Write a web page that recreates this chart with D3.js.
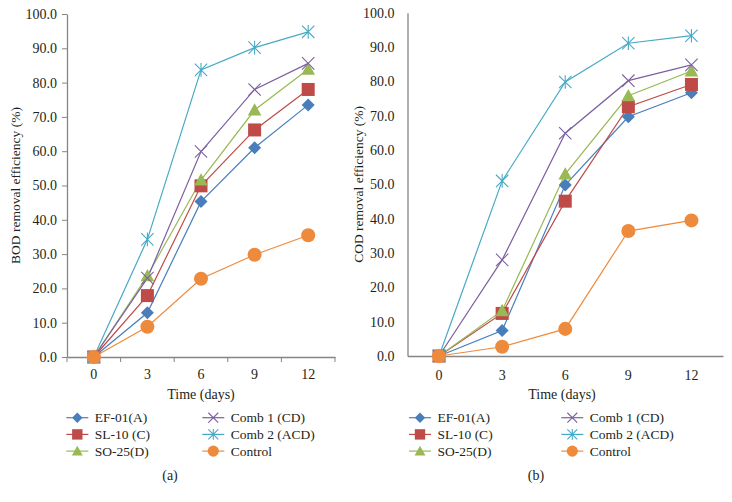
<!DOCTYPE html>
<html>
<head>
<meta charset="utf-8">
<script src="https://cdn.jsdelivr.net/npm/d3@7"></script>
<style>
  body { margin: 0; background: #fff; }
  svg text { font-family: "Liberation Serif", "Times New Roman", serif; fill: #231f20; }
</style>
</head>
<body>
<svg id="chart" width="732" height="502"></svg>
<script>
// days on the x axis
const days = [0, 3, 6, 9, 12];
const seriesNames = ["EF-01(A)", "SL-10 (C)", "SO-25(D)", "Comb 1 (CD)", "Comb 2 (ACD)", "Control"];
const yTicks = [0, 10, 20, 30, 40, 50, 60, 70, 80, 90, 100];

// (a) BOD removal efficiency (%)
const bodEF = [0, 12.9, 45.3, 61.0, 73.5];
const bodSL = [0, 17.9, 49.9, 66.2, 78.0];
const bodSO = [0, 23.7, 51.6, 72.0, 83.9];
const bodC1 = [0, 23.0, 59.9, 78.0, 85.6];
const bodC2 = [0, 34.3, 83.7, 90.2, 94.8];
const bodCtrl = [0, 8.8, 22.8, 29.8, 35.5];

// (b) COD removal efficiency (%)
const codEF = [0, 7.4, 49.8, 69.7, 76.7];
const codSL = [0, 12.4, 45.1, 72.6, 79.1];
const codSO = [0, 13.2, 53.0, 75.8, 83.0];
const codC1 = [0, 28.0, 64.9, 80.2, 84.8];
const codC2 = [0, 51.0, 79.8, 91.1, 93.3];
const codCtrl = [0, 2.7, 7.9, 36.4, 39.5];

const colors = ["#4a7ebb", "#be4b48", "#98b954", "#7d60a0", "#46aac5", "#ee8a3c"];
const shapes = ["diamond", "square", "triangle", "cross", "star", "circle"];
const axisColor = "#858585";

const svg = d3.select("#chart");

function drawMarker(g, shape, color, s) {
    if (shape === "diamond") {
        g.append("path").attr("d", `M0,${-s}L${s},0L0,${s}L${-s},0Z`).attr("fill", color);
    } else if (shape === "square") {
        g.append("rect").attr("x", -s).attr("y", -s).attr("width", 2 * s).attr("height", 2 * s).attr("fill", color);
    } else if (shape === "triangle") {
        g.append("path").attr("d", `M0,${-s * 1.05}L${s * 1.05},${s * 0.85}L${-s * 1.05},${s * 0.85}Z`).attr("fill", color);
    } else if (shape === "circle") {
        g.append("circle").attr("r", s * 1.08).attr("fill", color);
    } else {
        const k = s * 0.95;
        g.append("path")
            .attr("d", `M${-k},${-k}L${k},${k}M${-k},${k}L${k},${-k}` + (shape === "star" ? `M0,${-k * 1.1}L0,${k * 1.1}` : ""))
            .attr("stroke", color).attr("stroke-width", 1.1).attr("fill", "none");
    }
}

function drawPanel(cfg) {
    const x = d3.scaleBand().domain(days).range([cfg.x0, cfg.x1]);
    const y = d3.scaleLinear().domain([0, 100]).range([cfg.y0, cfg.y1]);
    const g = svg.append("g");

    // y axis
    const ya = g.append("g").attr("transform", `translate(${cfg.x0},0)`)
        .call(d3.axisLeft(y).tickValues(yTicks).tickFormat(d3.format(".1f"))
            .tickSize(cfg.ticks ? 5 : 0).tickSizeOuter(0).tickPadding(cfg.ticks ? 5 : 13));
    ya.select(".domain").attr("stroke", axisColor).attr("stroke-width", 1.3);
    ya.selectAll(".tick line").attr("stroke", axisColor);
    ya.selectAll("text").attr("font-size", 14).attr("fill", "#231f20")
        .attr("font-family", "Liberation Serif");

    // x axis (labels at band centres)
    const xa = g.append("g").attr("transform", `translate(0,${cfg.y0})`)
        .call(d3.axisBottom(x).tickSize(0).tickSizeOuter(0).tickPadding(cfg.ticks ? 12 : 14));
    xa.select(".domain").attr("stroke", axisColor).attr("stroke-width", 1.3);
    xa.selectAll("text").attr("font-size", 14).attr("fill", "#231f20")
        .attr("font-family", "Liberation Serif");
    if (cfg.ticks) {
        const bounds = days.map(d => x(d)).concat([cfg.x1]);
        xa.selectAll(".bound").data(bounds).enter().append("line")
            .attr("x1", d => d).attr("x2", d => d).attr("y1", 0).attr("y2", 5)
            .attr("stroke", axisColor);
    }

    const cx = d => x(d) + x.bandwidth() / 2;
    const line = d3.line().x((v, i) => cx(days[i])).y(v => y(v));

    cfg.data.forEach((vals, si) => {
        g.append("path").datum(vals).attr("d", line)
            .attr("fill", "none").attr("stroke", colors[si]).attr("stroke-width", 1.2);
    });
    cfg.data.forEach((vals, si) => {
        vals.forEach((v, i) => {
            const m = g.append("g").attr("transform", `translate(${cx(days[i])},${y(v)})`);
            drawMarker(m, shapes[si], colors[si], 6.5);
        });
    });

    // titles
    g.append("text").attr("transform", `translate(${cfg.ylabX},${(cfg.y0 + cfg.y1) / 2}) rotate(-90)`)
        .attr("text-anchor", "middle").attr("dy", "0.35em").attr("font-size", 13.5)
        .text(cfg.ylabel);
    g.append("text").attr("x", cfg.timeX).attr("y", 399)
        .attr("text-anchor", "middle").attr("font-size", 14).text("Time (days)");

    // legend
    seriesNames.forEach((name, si) => {
        const col = Math.floor(si / 3), row = si % 3;
        const lx = cfg.legX + col * cfg.legColW;
        const ly = 417.7 + row * 16.7;
        const lg = g.append("g");
        lg.append("line").attr("x1", lx - 11).attr("x2", lx + 11).attr("y1", ly).attr("y2", ly)
            .attr("stroke", colors[si]).attr("stroke-width", 1.2);
        const m = lg.append("g").attr("transform", `translate(${lx},${ly})`);
        drawMarker(m, shapes[si], colors[si], 5.2);
        lg.append("text").attr("x", lx + 17.5).attr("y", ly).attr("dy", "0.35em")
            .attr("font-size", 13.5).text(name);
    });
    g.append("text").attr("x", cfg.capX).attr("y", 480).attr("text-anchor", "middle")
        .attr("font-size", 14).text(cfg.caption);
}

drawPanel({
    x0: 67, x1: 335, y0: 357, y1: 14, ticks: true,
    data: [bodEF, bodSL, bodSO, bodC1, bodC2, bodCtrl],
    ylabel: "BOD removal efficiency (%)", ylabX: 15, timeX: 201,
    legX: 77.3, legColW: 136, capX: 170, caption: "(a)"
});
drawPanel({
    x0: 407.5, x1: 723, y0: 356, y1: 12.7, ticks: false,
    data: [codEF, codSL, codSO, codC1, codC2, codCtrl],
    ylabel: "COD removal efficiency (%)", ylabX: 358, timeX: 562,
    legX: 420, legColW: 152.3, capX: 536, caption: "(b)"
});
</script>
</body>
</html>
